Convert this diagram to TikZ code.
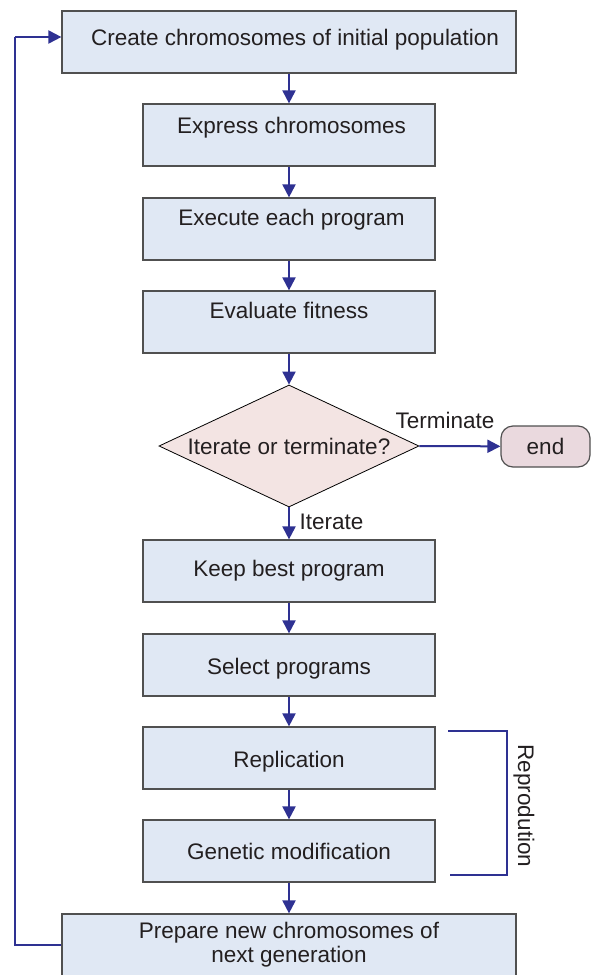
\documentclass[tikz,border=0pt]{standalone}
\usepackage{fontspec}
\setmainfont{Liberation Sans}
\usetikzlibrary{arrows.meta,shapes.geometric}
\definecolor{boxfill}{HTML}{E0E8F4}
\definecolor{boxline}{HTML}{505050}
\definecolor{dfill}{HTML}{F3E4E3}
\definecolor{efill}{HTML}{EAD9DE}
\definecolor{arr}{HTML}{2E3192}
\definecolor{txt}{HTML}{231F20}
\begin{document}
\begin{tikzpicture}[x=1pt,y=-1pt,
  every node/.style={text=txt,font=\fontsize{22.5}{24}\selectfont},
  bx/.style={draw=boxline,fill=boxfill,line width=1.2pt,minimum width=#1,minimum height=62pt,inner sep=0pt},
  td/.style 2 args={text height=#1pt,text depth=#2pt},
  flow/.style={draw=arr,line width=2pt,-{Triangle[length=13pt,width=13pt]}},
  brk/.style={draw=arr,line width=1.5pt}]
\useasboundingbox (0,0) rectangle (591,975);
\node[bx=454pt,td={16}{8.4}] (b1) at (289,42) {\hspace*{12pt}Create chromosomes of initial population};
\node[bx=292pt,td={16}{18.4}] (b2) at (289,135) {\hspace*{5pt}Express chromosomes};
\node[bx=292pt,td={16}{24}] (b3) at (289,229) {\hspace*{5pt}Execute each program};
\node[bx=292pt,td={16}{24}] (b4) at (289,322) {Evaluate fitness};
\node[shape=diamond,draw=black,fill=dfill,line width=0.8pt,minimum width=260pt,minimum height=122pt,inner sep=0pt,aspect=2.13] (d) at (289,446) {Iterate or terminate?};
\node[draw=boxline,fill=efill,line width=1.2pt,rounded corners=12pt,minimum width=89pt,minimum height=41pt,inner sep=0pt] (end) at (545.5,446.5) {end};
\node[bx=292pt,td={16}{4.4}] (b5) at (289,571) {Keep best program};
\node[bx=292pt,td={23.2}{4.4}] (b6) at (289,665) {Select programs};
\node[bx=292pt,td={23.4}{4.4}] (b7) at (289,758) {Replication};
\node[bx=292pt,td={22}{4.4}] (b8) at (289,851) {Genetic modification};
\node[bx=454pt,align=center] (b9) at (289,945) {Prepare new chromosomes of\\next generation};
\node (lterm) at (445,420) {Terminate};
\node[anchor=west] (liter) at (296,522) {Iterate};
\node[rotate=-90] (lrep) at (524,806) {Reprodution};
\draw[flow] (b1) -- (b2);
\draw[flow] (b2) -- (b3);
\draw[flow] (b3) -- (b4);
\draw[flow] (b4) -- (d.north);
\draw[flow] (d.east) -- (end);
\draw[flow] (d.south) -- (b5);
\draw[flow] (b5) -- (b6);
\draw[flow] (b6) -- (b7);
\draw[flow] (b7) -- (b8);
\draw[flow] (b8) -- (b9);
\coordinate (lb) at (15,945);
\coordinate (lt) at (15,37);
\draw[flow,-] (b9.west) -- (lb) -- (lt);
\draw[flow] (lt) -- (lt -| b1.west);
\coordinate (r1) at (448,731);
\coordinate (r2) at (507,731);
\coordinate (r3) at (507,875);
\coordinate (r4) at (450,875);
\draw[brk] (r1) -- (r2) -- (r3) -- (r4);
\end{tikzpicture}
\end{document}
